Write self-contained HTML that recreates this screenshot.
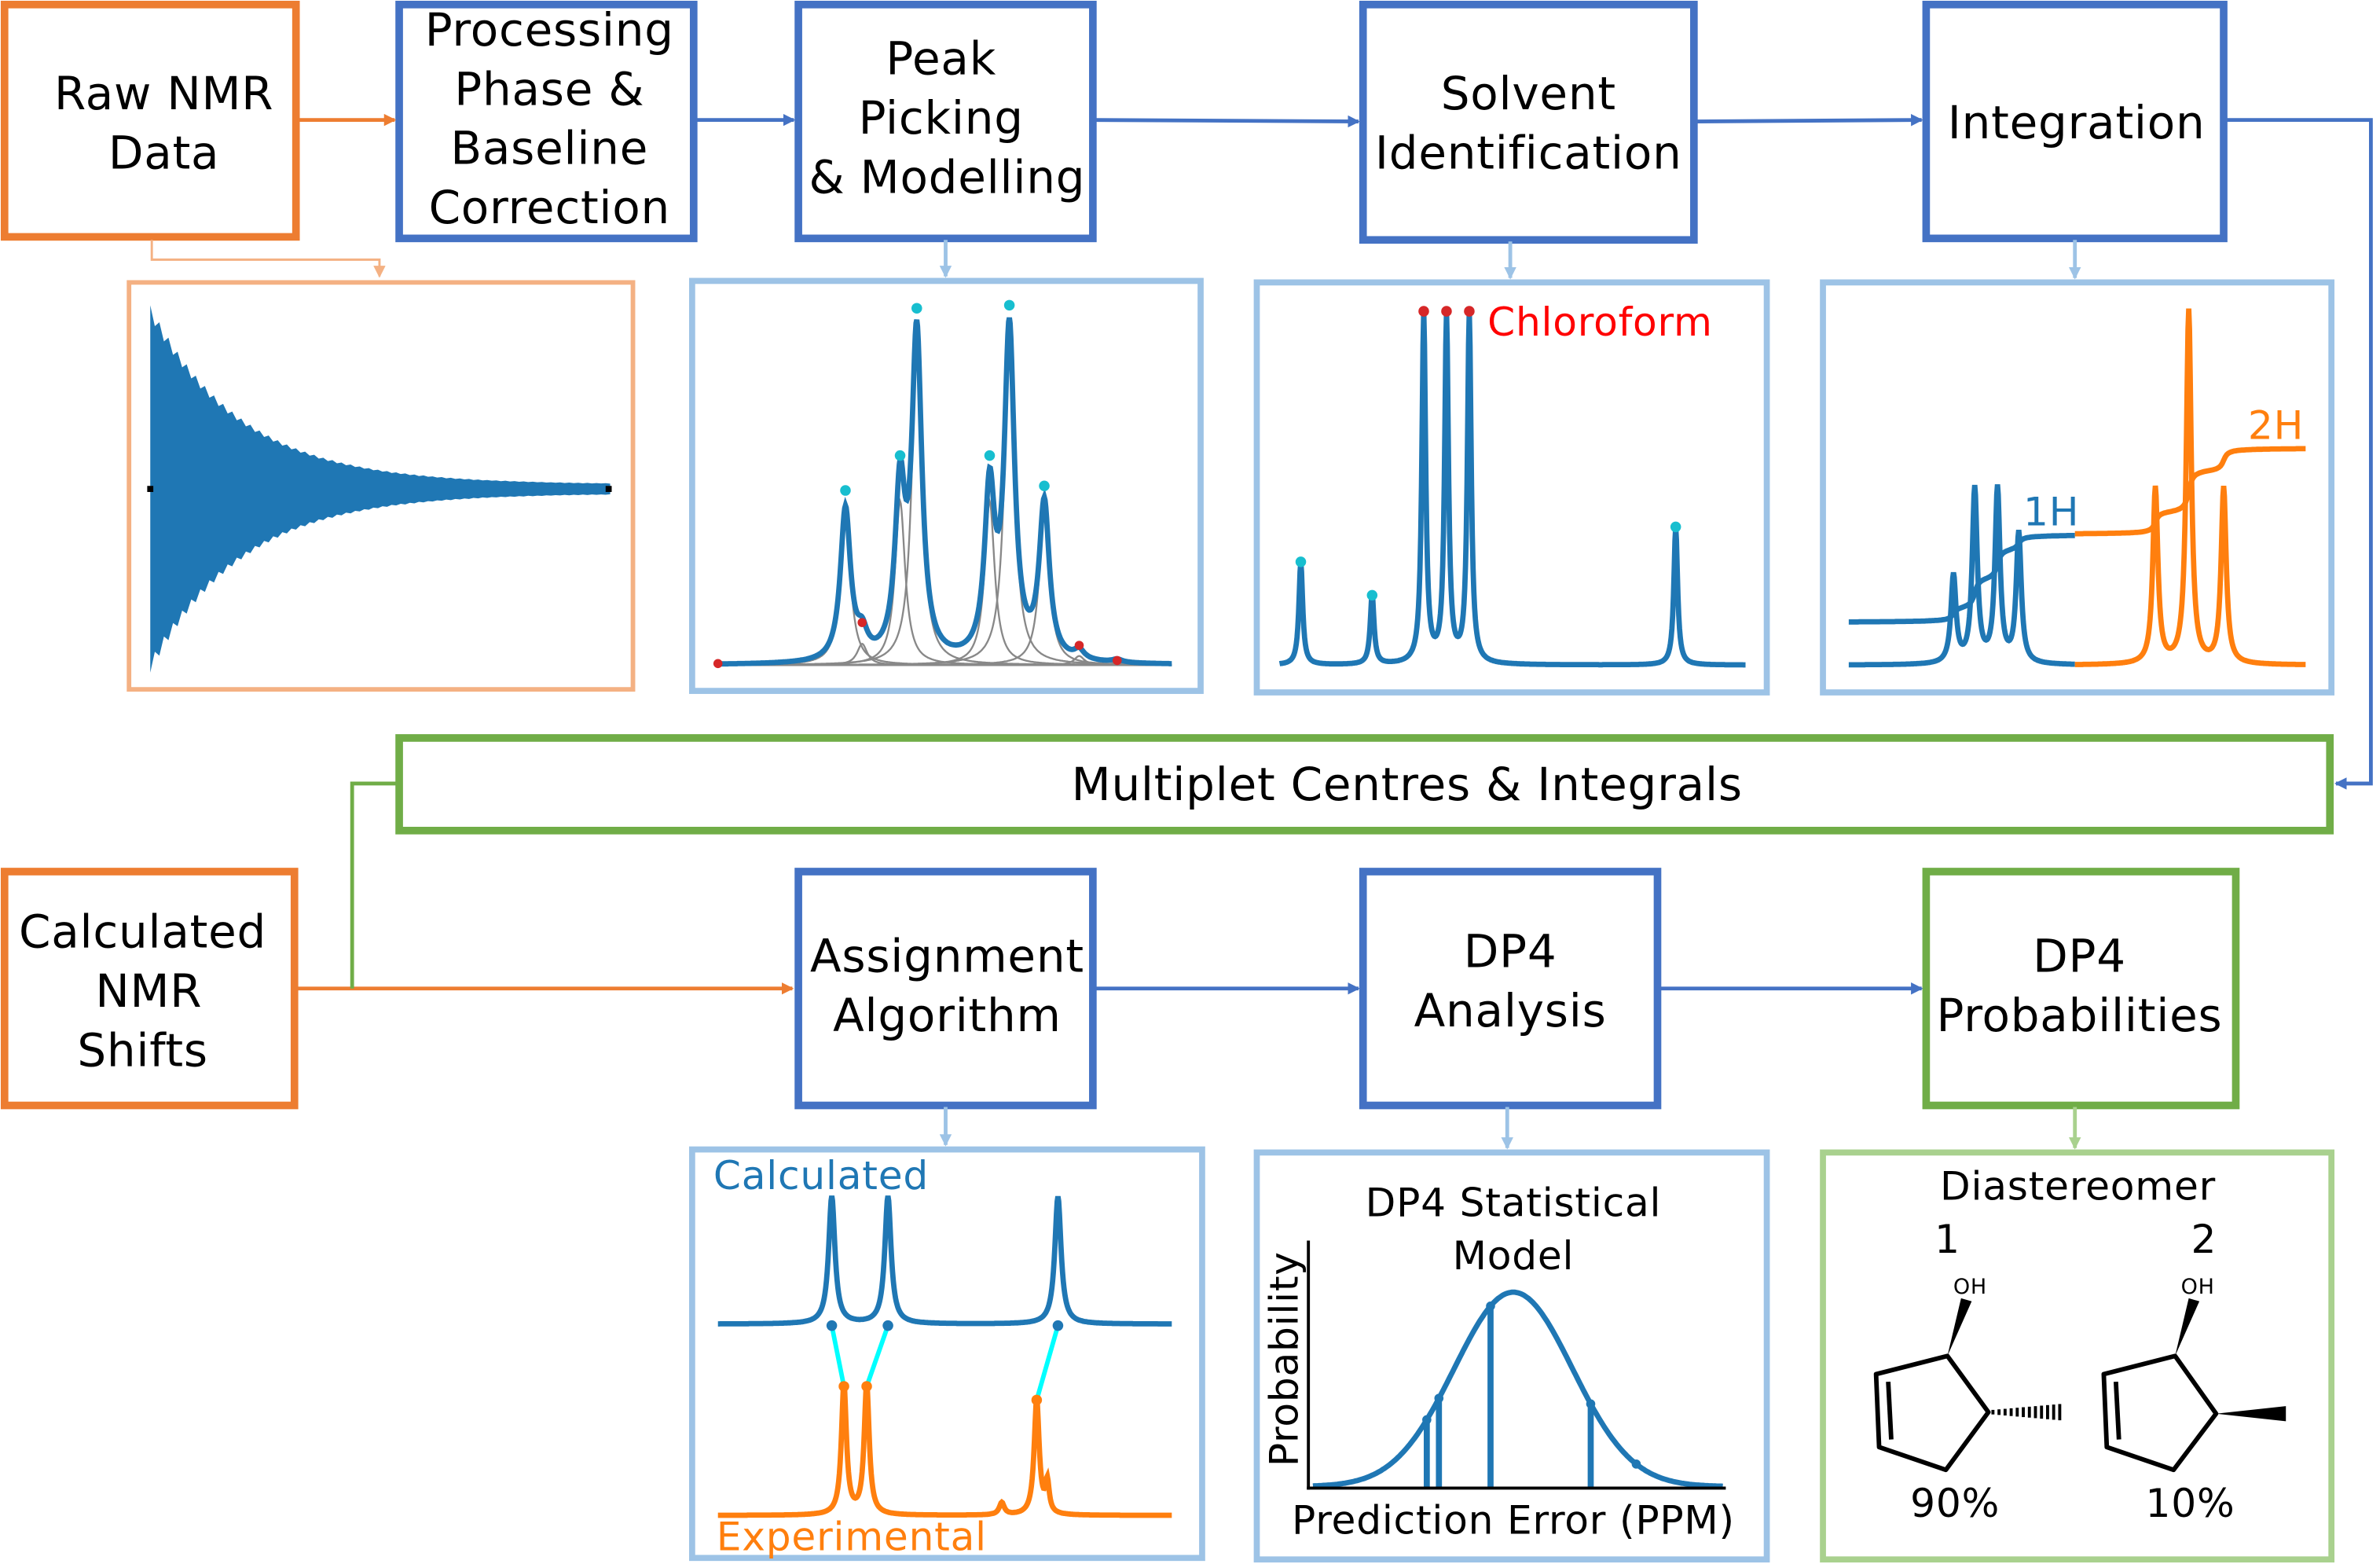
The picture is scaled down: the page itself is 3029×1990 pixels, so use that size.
<!DOCTYPE html>
<html><head><meta charset="utf-8">
<style>html,body{margin:0;padding:0;background:#fff;}svg{display:block;}text{font-family:"DejaVu Sans","Liberation Sans",sans-serif;letter-spacing:0.4px;}</style>
</head><body>
<svg id="s" width="3029" height="1990" viewBox="0 0 1568 1030" preserveAspectRatio="none" xmlns="http://www.w3.org/2000/svg">
<defs>
<marker id="ao" markerWidth="8" markerHeight="8" refX="7" refY="4" orient="auto" markerUnits="userSpaceOnUse"><path d="M0,0 L8,4 L0,8 z" fill="#ED7D31"/></marker>
<marker id="ab" markerWidth="8" markerHeight="8" refX="7" refY="4" orient="auto" markerUnits="userSpaceOnUse"><path d="M0,0 L8,4 L0,8 z" fill="#4472C4"/></marker>
<marker id="alb" markerWidth="8" markerHeight="8" refX="7" refY="4" orient="auto" markerUnits="userSpaceOnUse"><path d="M0,0 L8,4 L0,8 z" fill="#9DC3E6"/></marker>
<marker id="alo" markerWidth="8" markerHeight="8" refX="7" refY="4" orient="auto" markerUnits="userSpaceOnUse"><path d="M0,0 L8,4 L0,8 z" fill="#F4B183"/></marker>
<marker id="alg" markerWidth="8" markerHeight="8" refX="7" refY="4" orient="auto" markerUnits="userSpaceOnUse"><path d="M0,0 L8,4 L0,8 z" fill="#A9D18E"/></marker>
</defs>
<g fill="none" stroke-width="5">
<rect x="3" y="3" width="192" height="153" stroke="#ED7D31"/>
<rect x="263" y="3" width="194" height="154" stroke="#4472C4"/>
<rect x="526" y="3" width="194" height="154" stroke="#4472C4"/>
<rect x="898" y="3" width="218" height="155" stroke="#4472C4"/>
<rect x="1269" y="3" width="196" height="154" stroke="#4472C4"/>
<rect x="263" y="486" width="1272" height="61" stroke="#70AD47"/>
<rect x="3" y="574" width="191" height="154" stroke="#ED7D31"/>
<rect x="526" y="574" width="194" height="154" stroke="#4472C4"/>
<rect x="898" y="574" width="194" height="154" stroke="#4472C4"/>
<rect x="1269" y="574" width="204" height="154" stroke="#70AD47"/>
</g>
<g fill="none" stroke-width="4">
<rect x="85" y="186" width="332" height="268" stroke="#F4B183" stroke-width="3"/>
<rect x="456" y="185" width="335" height="270" stroke="#9DC3E6"/>
<rect x="828" y="186" width="336" height="270" stroke="#9DC3E6"/>
<rect x="1201" y="186" width="335" height="270" stroke="#9DC3E6"/>
<rect x="456" y="757" width="336" height="269" stroke="#9DC3E6"/>
<rect x="828" y="759" width="336" height="268" stroke="#9DC3E6"/>
<rect x="1201" y="759" width="335" height="268" stroke="#A9D18E"/>
</g>
<g font-size="30" text-anchor="middle" fill="#000">
<text x="108" y="72">Raw NMR</text><text x="108" y="111">Data</text>
<text x="362" y="30">Processing</text><text x="362" y="69">Phase &amp;</text><text x="362" y="108">Baseline</text><text x="362" y="147">Correction</text>
<text x="620" y="49">Peak</text><text x="620" y="88">Picking</text><text x="624" y="127">&amp; Modelling</text>
<text x="1007" y="72">Solvent</text><text x="1007" y="111">Identification</text>
<text x="1368" y="91">Integration</text>
<text x="927" y="527">Multiplet Centres &amp; Integrals</text>
<text x="94" y="624">Calculated</text><text x="98" y="663">NMR</text><text x="94" y="702">Shifts</text>
<text x="624" y="640">Assignment</text><text x="624" y="679">Algorithm</text>
<text x="995" y="637">DP4</text><text x="995" y="676">Analysis</text>
<text x="1370" y="640">DP4</text><text x="1370" y="679">Probabilities</text>
</g>
<g fill="none" stroke-width="2.5">
<path d="M196,79 H260" stroke="#ED7D31" marker-end="url(#ao)"/>
<path d="M458,79 H523" stroke="#4472C4" marker-end="url(#ab)"/>
<path d="M721,79 L895,80" stroke="#4472C4" marker-end="url(#ab)"/>
<path d="M1117,80 L1266,79" stroke="#4472C4" marker-end="url(#ab)"/>
<path d="M1466,79 H1562 V516 H1539" stroke="#4472C4" marker-end="url(#ab)"/>
<path d="M100,158 V171 H250 V182" stroke="#F4B183" stroke-width="1.5" marker-end="url(#alo)"/>
<path d="M623,158 V182" stroke="#9DC3E6" marker-end="url(#alb)"/>
<path d="M995,159 V183" stroke="#9DC3E6" marker-end="url(#alb)"/>
<path d="M1367,158 V183" stroke="#9DC3E6" marker-end="url(#alb)"/>
<path d="M196,651 H522" stroke="#ED7D31" marker-end="url(#ao)"/>
<path d="M232,651 V516 H262" stroke="#70AD47"/>
<path d="M721,651 H895" stroke="#4472C4" marker-end="url(#ab)"/>
<path d="M1093,651 H1266" stroke="#4472C4" marker-end="url(#ab)"/>
<path d="M623,729 V754" stroke="#9DC3E6" marker-end="url(#alb)"/>
<path d="M993,729 V756" stroke="#9DC3E6" marker-end="url(#alb)"/>
<path d="M1367,729 V756" stroke="#A9D18E" marker-end="url(#alg)"/>
</g>
<g id="plots"></g>
<text x="980" y="221" font-size="26" fill="#FF0000">Chloroform</text>
<text x="1333" y="346" font-size="26" fill="#1F77B4">1H</text>
<text x="1481" y="289" font-size="26" fill="#FF7F0E">2H</text>
<text x="470" y="783" font-size="26" fill="#1F77B4">Calculated</text>
<text x="472" y="1021" font-size="26" fill="#FF7F0E">Experimental</text>
<g font-size="26" text-anchor="middle">
<text x="997" y="801">DP4 Statistical</text><text x="997" y="836">Model</text>
<text x="997" y="1010">Prediction Error (PPM)</text>
<text x="855" y="895" transform="rotate(-90 855 895)">Probability</text>
<text x="1369" y="790">Diastereomer</text>
<text x="1283" y="825">1</text><text x="1452" y="825">2</text>
<text x="1288" y="999">90%</text><text x="1443" y="999">10%</text>
</g>
<g font-size="14" text-anchor="middle"><text x="1298" y="852">OH</text><text x="1448" y="852">OH</text></g>
<g stroke="#000" stroke-width="3" fill="none" stroke-linejoin="round">
<path d="M1283,893 L1310,930 L1282,968 L1238,953 L1236,905 Z"/>
<path d="M1244,910 L1246,948"/>
<path d="M1433,893 L1460,931 L1432,968 L1388,953 L1386,905 Z"/>
<path d="M1394,910 L1396,948"/>
</g>
<path d="M1283,893 L1292,855 L1299,857 Z" fill="#000"/>
<path d="M1433,893 L1442,855 L1449,857 Z" fill="#000"/>
<path d="M1460,931 L1506,926 L1506,936 Z" fill="#000"/>
<g id="hash" stroke="#000" stroke-width="2"></g>
<g stroke="#000" stroke-width="2"><line x1="862" y1="817" x2="862" y2="981"/><line x1="861" y1="980" x2="1137" y2="980"/></g>
</svg>
<script>
(function(){
var NS="http://www.w3.org/2000/svg",P=document.getElementById("plots");
function el(t,a){var e=document.createElementNS(NS,t);for(var k in a)e.setAttribute(k,a[k]);P.appendChild(e);return e;}
function spec(x0,x1,base,peaks,w){var d="";for(var x=x0;x<=x1;x+=0.5){var y=base;peaks.forEach(function(p){var ww=p[2]||w;y-=p[1]/(1+Math.pow((x-p[0])/ww,2));});d+=(x==x0?"M":"L")+x.toFixed(1)+","+y.toFixed(1);}return d;}
var tp="",bt="";for(var x=99;x<=402;x+=3){var a=118*Math.exp(-(x-99)/60)+3;var j=(Math.floor((x-99)/3)%2)?0.93:1;tp+=(x==99?"M":"L")+x+","+(322-a*j).toFixed(1)+" ";bt="L"+x+","+(322+a*j).toFixed(1)+" "+bt;}
el("path",{d:tp+bt+"Z",fill:"#1F77B4"});
el("rect",{x:97,y:320,width:4,height:4,fill:"#000"});el("rect",{x:399,y:320,width:4,height:4,fill:"#000"});
var pk=[[557,100],[593,108],[604,212],[652,108],[665,215],[688,102],[568,14],[711,6],[736,2]];
pk.forEach(function(p){el("path",{d:spec(473,772,438,[p],4),fill:"none",stroke:"#888","stroke-width":1.2});});
el("path",{d:spec(473,772,438,pk,4),fill:"none",stroke:"#1F77B4","stroke-width":3.5});
[[557,323],[593,300],[604,203],[652,300],[665,201],[688,320]].forEach(function(p){el("circle",{cx:p[0],cy:p[1],r:3.5,fill:"#17BECF"});});
[[568,410],[711,425],[736,435],[473,437]].forEach(function(p){el("circle",{cx:p[0],cy:p[1],r:3,fill:"#D62728"});});
var sp=[[857,68,1.5],[904,46,1.5],[938,231,1.5],[953,229,1.5],[968,231,1.5],[1104,91,1.5]];
el("path",{d:spec(843,1150,438,sp,1.5),fill:"none",stroke:"#1F77B4","stroke-width":3.5});
[[857,370],[904,392],[1104,347]].forEach(function(p){el("circle",{cx:p[0],cy:p[1],r:3.5,fill:"#17BECF"});});
[[938,205],[953,205],[968,205]].forEach(function(p){el("circle",{cx:p[0],cy:p[1],r:3.5,fill:"#D62728"});});
el("path",{d:spec(1218,1367,438,[[1287,58,2],[1301,115,2],[1316,115,2],[1330,86,2]],2),fill:"none",stroke:"#1F77B4","stroke-width":3.5});
var d="";for(var x=1218;x<=1367;x++){var s=0;[[1287,.15],[1301,.35],[1316,.35],[1330,.15]].forEach(function(p){s+=p[1]*(0.5+Math.atan((x-p[0])/2)/Math.PI);});d+=(x==1218?"M":"L")+x+","+(410-58*s).toFixed(1);}
el("path",{d:d,fill:"none",stroke:"#1F77B4","stroke-width":3.5});
el("path",{d:spec(1367,1519,438,[[1420,116,2],[1442,233,2],[1465,116,2]],2),fill:"none",stroke:"#FF7F0E","stroke-width":3.5});
d="";for(var x=1367;x<=1519;x++){var s=0;[[1420,.25],[1442,.5],[1465,.25]].forEach(function(p){s+=p[1]*(0.5+Math.atan((x-p[0])/2)/Math.PI);});d+=(x==1367?"M":"L")+x+","+(352-57*s).toFixed(1);}
el("path",{d:d,fill:"none",stroke:"#FF7F0E","stroke-width":3.5});
el("path",{d:spec(473,772,872,[[548,84,2.5],[585,84,2.5],[697,84,2.5]],2.5),fill:"none",stroke:"#1F77B4","stroke-width":3.5});
el("path",{d:spec(473,772,998,[[556,86,2],[571,86,2],[683,76,2],[660,8,2],[690,20,1.5]],2),fill:"none",stroke:"#FF7F0E","stroke-width":3.5});
[[548,873,556,913],[585,873,571,913],[697,873,683,922]].forEach(function(l){el("line",{x1:l[0],y1:l[1],x2:l[2],y2:l[3],stroke:"#00FFFF","stroke-width":3});el("circle",{cx:l[0],cy:l[1],r:3.5,fill:"#1F77B4"});el("circle",{cx:l[2],cy:l[3],r:3.5,fill:"#FF7F0E"});});
function g(x){return 979-128*Math.exp(-Math.pow((x-997)/39,2)/2);}
d="";for(var x=865;x<=1135;x++){d+=(x==865?"M":"L")+x+","+g(x).toFixed(1);}
el("path",{d:d,fill:"none",stroke:"#1F77B4","stroke-width":3.5});
[940,948,982,1048].forEach(function(x){var y=g(x);el("line",{x1:x,y1:980,x2:x,y2:y,stroke:"#1F77B4","stroke-width":4});el("circle",{cx:x,cy:y,r:3,fill:"#1F77B4"});});
el("circle",{cx:1078,cy:g(1078),r:3,fill:"#1F77B4"});
var H=document.getElementById("hash");for(var i=0;i<12;i++){var x=1313+i*4,h=1.5+i*0.35;var ln=document.createElementNS(NS,"line");ln.setAttribute("x1",x);ln.setAttribute("x2",x);ln.setAttribute("y1",930-h);ln.setAttribute("y2",930+h);H.appendChild(ln);}
})();
</script>
</body></html>
